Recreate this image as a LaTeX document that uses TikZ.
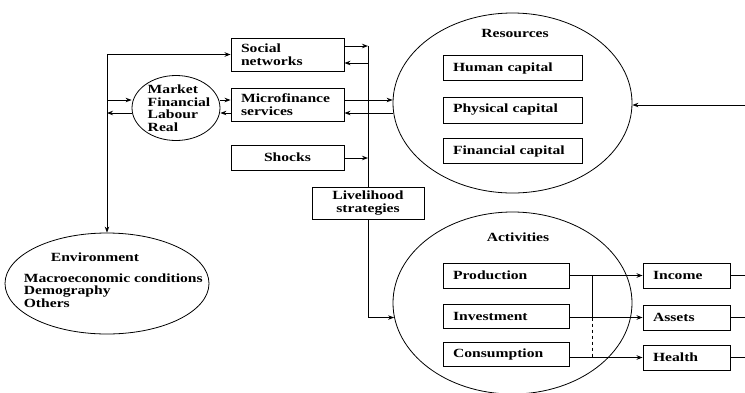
\documentclass[tikz,border=0pt]{standalone}
\usepackage{fontspec}
\setmainfont{Liberation Serif}[FakeStretch=1.25]
\usetikzlibrary{shapes.geometric, arrows.meta}

\begin{document}
\begin{tikzpicture}[x=1pt, y=-1pt, >={Stealth[length=6pt, width=4.5pt]}, line width=0.9pt,
    font=\bfseries\fontsize{12.5}{12.5}\selectfont,
    box/.style={draw, inner xsep=10pt, inner ysep=0pt, align=left},
    oval/.style={draw, ellipse, inner sep=0pt, line width=0.8pt}]
  \useasboundingbox (0,0) rectangle (745,392);

  % Left side: market, social networks, microfinance, shocks
  \node[oval, minimum width=88pt, minimum height=65pt] (mkt) at (176,108) {};
  \node[align=left] (mktx) at (179,108) {Market\\Financial\\Labour\\Real};
  \node[box, text width=93pt, minimum height=33pt] (soc) at (287.5,54.5) {Social\\networks};
  \node[box, text width=93pt, minimum height=33pt] (mic) at (287.5,104.5) {Microfinance\\services};
  \node[box, text width=93pt, minimum height=25pt, align=center] (sho) at (287.5,157.5) {Shocks};
  \node[box, text width=92pt, minimum height=32pt, align=center] (liv) at (368,203) {Livelihood\\strategies};

  % Environment
  \node[oval, minimum width=204pt, minimum height=101pt] (env) at (107,283.5) {};
  \node (envt) at (95,257) {Environment};
  \node[align=left, anchor=west] (envx) at (20,290.5) {Macroeconomic conditions\\Demography\\Others};

  % Resources
  \node[oval, minimum width=239pt, minimum height=180pt] (res) at (512.5,103) {};
  \node (rest) at (515,33) {Resources};
  \node[box, text width=119pt, minimum height=25pt] (hum) at (512.5,68) {Human capital};
  \node[box, text width=119pt, minimum height=26pt] (phy) at (512.5,110) {Physical capital};
  \node[box, text width=119pt, minimum height=25pt] (fin) at (512.5,151) {Financial capital};

  % Activities and outcomes
  \node[oval, minimum width=239pt, minimum height=182pt] (act) at (512.5,303) {};
  \node (actt) at (518,237) {Activities};
  \node[box, text width=106pt, minimum height=25pt] (pro) at (506,275.5) {Production};
  \node[box, text width=106pt, minimum height=24pt] (inv) at (506,316) {Investment};
  \node[box, text width=106pt, minimum height=24pt] (con) at (506,354) {Consumption};
  \node[box, text width=67pt, minimum height=25pt] (inc) at (686.5,275.5) {Income};
  \node[box, text width=67pt, minimum height=25pt] (ass) at (686.5,317.5) {Assets};
  \node[box, text width=67pt, minimum height=25pt] (hea) at (686.5,357.5) {Health};

  % Spines and row levels
  \coordinate (m1) at (107,100);
  \coordinate (m2) at (107,113);
  \coordinate (rs) at (368,46);
  \coordinate (s2) at (368,63);
  \coordinate (s3) at (368,158);
  \coordinate (jn) at (592,276);
  \coordinate (rim) at (745,105);

  % Left spine
  \draw[<->] (soc.west) -| (env.north);
  \draw[->] (m1) -- (m1 -| mkt.west);
  \draw[->] (m2 -| mkt.west) -- (m2);
  \draw[->] (m1 -| mkt.east) -- (m1 -| mic.west);
  \draw[->] (m2 -| mic.west) -- (m2 -| mkt.east);

  % Right spine
  \draw[->] (rs -| soc.east) -- (rs);
  \draw[->] (s2) -- (s2 -| soc.east);
  \draw[->] (s3 -| sho.east) -- (s3);
  \draw (rs) -- (liv.north);
  \draw[->] (liv.south) |- (act.187);
  \draw[->] (m1 -| mic.east) -- (m1 -| res.west);
  \draw[->] (m2 -| res.west) -- (m2 -| mic.east);
  \draw[->] (rim) -- (rim -| res.east);

  % Activities to outcomes
  \draw[->] (pro.east) -- (inc.west);
  \draw[->] (inv.east |- ass.west) -- (ass.west);
  \draw[->] (con.east |- hea.west) -- (hea.west);
  \draw (jn |- inc.west) -- (jn |- ass.west);
  \draw[dashed] (jn |- ass.west) -- (jn |- hea.west);
  \foreach \n in {inc,ass,hea}
    \draw (\n.east) -- (\n.east -| rim);
\end{tikzpicture}
\end{document}
